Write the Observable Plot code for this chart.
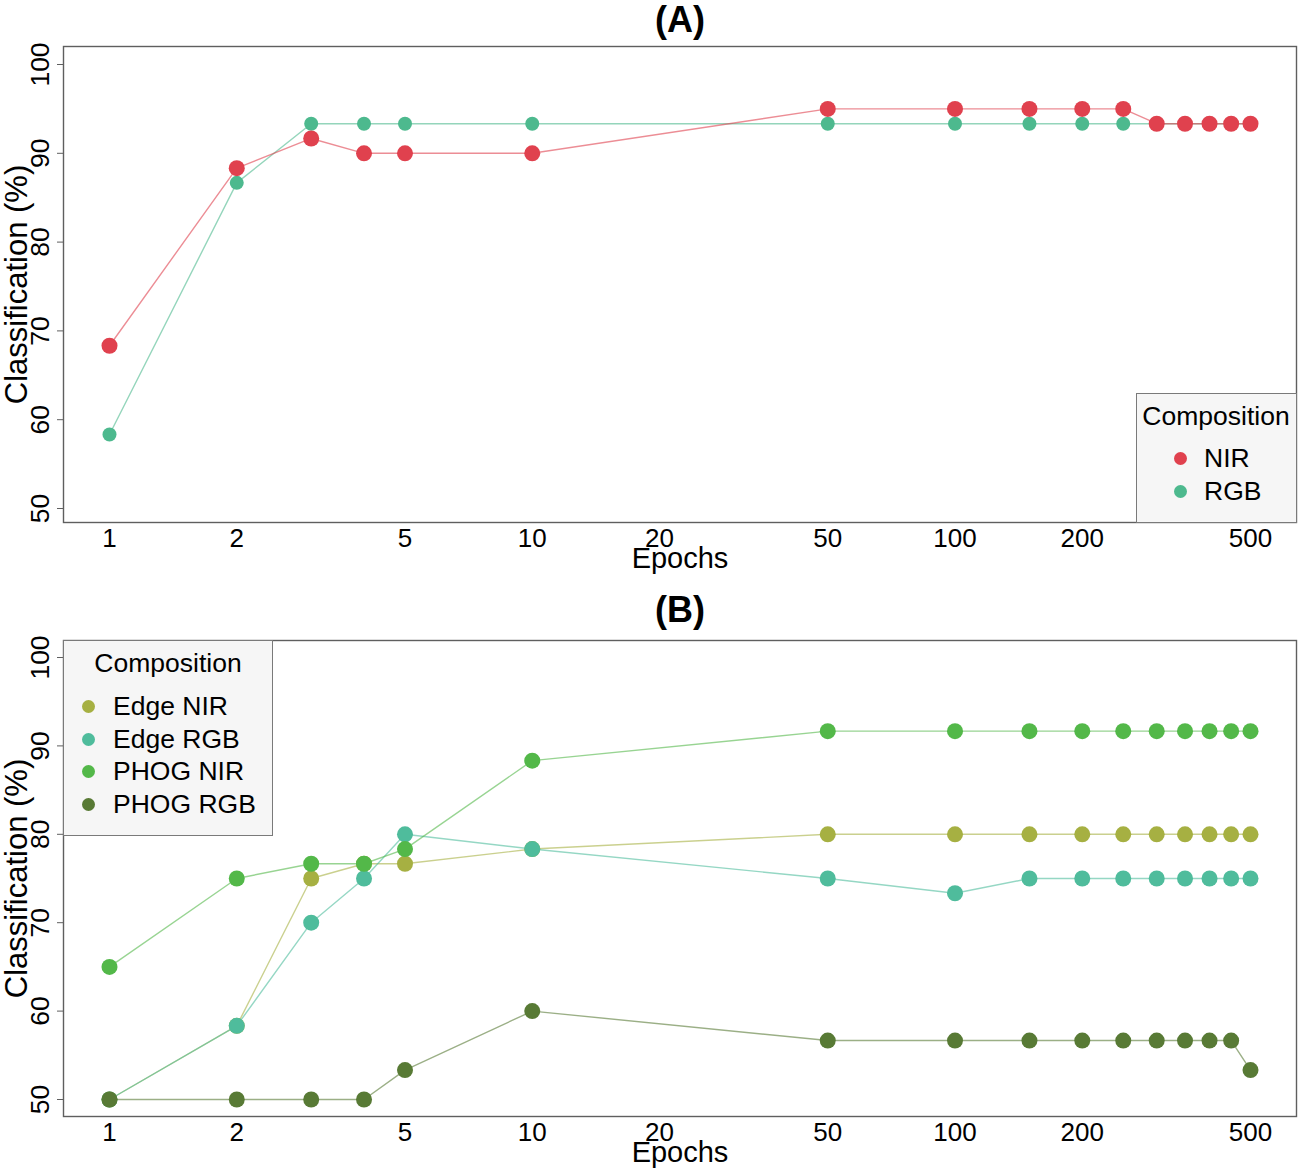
<!DOCTYPE html>
<html><head><meta charset="utf-8">
<script src="https://cdn.jsdelivr.net/npm/d3@7"></script>
<script src="https://cdn.jsdelivr.net/npm/@observablehq/plot@0.6"></script>
<style>
body{margin:0;background:#fff;font-family:"Liberation Sans",Arial,sans-serif;}
#wrap{position:relative;width:1299px;height:1172px;overflow:hidden;background:#fff;}
.abs{position:absolute;white-space:nowrap;color:#000;}
.legend{position:absolute;background:#f6f6f6;border:1px solid #7a7a7a;box-sizing:border-box;}
.dot{position:absolute;border-radius:50%;}
svg{position:absolute;left:0;}
</style></head><body><div id="wrap"></div>
<script>
// ---------- data ----------
const epochs = [1, 2, 3, 4, 5, 10, 50, 100, 150, 200, 250, 300, 350, 400, 450, 500];
const xTicks = [1, 2, 5, 10, 20, 50, 100, 200, 500];
const yTicks = [50, 60, 70, 80, 90, 100];

// Panel (A)
const seriesA = ["NIR", "RGB"];
const nirA = [68.33, 88.33, 91.67, 90, 90, 90, 95, 95, 95, 95, 95, 93.33, 93.33, 93.33, 93.33, 93.33];
const rgbA = [58.33, 86.67, 93.33, 93.33, 93.33, 93.33, 93.33, 93.33, 93.33, 93.33, 93.33, 93.33, 93.33, 93.33, 93.33, 93.33];
const colorsA = ["#e0414e", "#4db98e"];

// Panel (B)
const seriesB = ["Edge NIR", "Edge RGB", "PHOG NIR", "PHOG RGB"];
const edgeNirB = [50, 58.33, 75, 76.67, 76.67, 78.33, 80, 80, 80, 80, 80, 80, 80, 80, 80, 80];
const edgeRgbB = [50, 58.33, 70, 75, 80, 78.33, 75, 73.33, 75, 75, 75, 75, 75, 75, 75, 75];
const phogNirB = [65, 75, 76.67, 76.67, 78.33, 88.33, 91.67, 91.67, 91.67, 91.67, 91.67, 91.67, 91.67, 91.67, 91.67, 91.67];
const phogRgbB = [50, 50, 50, 50, 53.33, 60, 56.67, 56.67, 56.67, 56.67, 56.67, 56.67, 56.67, 56.67, 56.67, 53.33];
const colorsB = ["#a6b042", "#4fbc9c", "#53b849", "#587a35"];

// ---------- helpers ----------
const wrap = document.getElementById("wrap");
const FONT = "Liberation Sans, Arial, sans-serif";

function rows(name, vals) {
  return epochs.map((e, i) => ({ series: name, epoch: e, value: vals[i] }));
}

function makePanel({ series, values, colors, radii, order, top, height, marginTop, marginBottom, yRange }) {
  const marks = [];
  for (const i of order) {
    const data = rows(series[i], values[i]);
    marks.push(Plot.line(data, { x: "epoch", y: "value", stroke: colors[i], strokeOpacity: 0.6, strokeWidth: 1.4 }));
    marks.push(Plot.dot(data, { x: "epoch", y: "value", r: radii[i], fill: colors[i], stroke: "none" }));
  }
  const chart = Plot.plot({
    width: 1299,
    height,
    marginTop,
    marginBottom,
    marginLeft: 63,
    marginRight: 3,
    style: { fontFamily: FONT, background: "transparent", color: "#000", overflow: "visible" },
    x: { type: "log", domain: [1, 500], range: [109, 1250], axis: null },
    y: { domain: [50, 100], range: yRange, axis: null },
    marks: [
      Plot.frame({ stroke: "#5f5f5f", strokeWidth: 1.4 }),
      Plot.axisY({ ticks: yTicks, tickSize: 6, tickFormat: () => "", label: null, stroke: "#5f5f5f" }),
      Plot.text(yTicks, { y: d => d, text: d => String(d), frameAnchor: "left", dx: -23, rotate: -90,
        fontSize: 26.5, textAnchor: "middle", lineAnchor: "middle", fill: "#000" }),
      Plot.text(["Classification (%)"], { text: d => d, frameAnchor: "left", dx: -46, rotate: -90,
        fontSize: 31, textAnchor: "middle", lineAnchor: "middle", fill: "#000" }),
      Plot.text(xTicks, { x: d => d, text: d => String(d), frameAnchor: "bottom", lineAnchor: "top", dy: 6,
        fontSize: 26, textAnchor: "middle", fill: "#000" }),
      Plot.text(["Epochs"], { text: d => d, frameAnchor: "bottom", lineAnchor: "top", dy: 25, fontSize: 29, fill: "#000" }),
      ...marks
    ]
  });
  chart.style.top = top + "px";
  wrap.appendChild(chart);
}

function addText(str, { left, centerX, cy, fs, bold, parent }) {
  const d = document.createElement("div");
  d.className = "abs";
  d.textContent = str;
  d.style.fontSize = fs + "px";
  d.style.lineHeight = fs + "px";
  d.style.fontFamily = FONT;
  if (bold) d.style.fontWeight = "bold";
  d.style.top = (cy - 0.488 * fs) + "px";
  if (centerX != null) {
    d.style.left = (centerX - 500) + "px";
    d.style.width = "1000px";
    d.style.textAlign = "center";
  } else {
    d.style.left = left + "px";
  }
  (parent || wrap).appendChild(d);
}

function addLegend({ box, titleCx, titleCy, dotX, textX, itemYs, labels, colors, dotR }) {
  const lg = document.createElement("div");
  lg.className = "legend";
  lg.style.left = box[0] + "px";
  lg.style.top = box[1] + "px";
  lg.style.width = (box[2] - box[0]) + "px";
  lg.style.height = (box[3] - box[1]) + "px";
  wrap.appendChild(lg);
  addText("Composition", { centerX: titleCx, cy: titleCy, fs: 26.5 });
  labels.forEach((lab, i) => {
    const dt = document.createElement("div");
    dt.className = "dot";
    dt.style.left = (dotX - dotR) + "px";
    dt.style.top = (itemYs[i] - dotR) + "px";
    dt.style.width = dt.style.height = (2 * dotR) + "px";
    dt.style.background = colors[i];
    wrap.appendChild(dt);
    addText(lab, { left: textX, cy: itemYs[i], fs: 26.5 });
  });
}

// ---------- panel A ----------
makePanel({
  series: seriesA, values: [nirA, rgbA], colors: colorsA, radii: [8, 7], order: [1, 0],
  top: 0, height: 590, marginTop: 46, marginBottom: 68, yRange: [508, 64]
});
addText("(A)", { centerX: 680, cy: 20, fs: 36, bold: true });
addLegend({
  box: [1136, 393, 1297, 523], titleCx: 1216, titleCy: 416, dotX: 1180, textX: 1204,
  itemYs: [458, 491], labels: seriesA, colors: colorsA, dotR: 6.5
});

// ---------- panel B ----------
makePanel({
  series: seriesB, values: [edgeNirB, edgeRgbB, phogNirB, phogRgbB], colors: colorsB, radii: [8, 8, 8, 8],
  order: [0, 1, 2, 3], top: 590, height: 582, marginTop: 50, marginBottom: 56, yRange: [509, 67]
});
addText("(B)", { centerX: 680, cy: 610, fs: 36, bold: true });
addLegend({
  box: [63, 640, 273, 836], titleCx: 168, titleCy: 663, dotX: 88, textX: 113,
  itemYs: [706, 739, 771, 804], labels: seriesB, colors: colorsB, dotR: 6.5
});
</script></body></html>
